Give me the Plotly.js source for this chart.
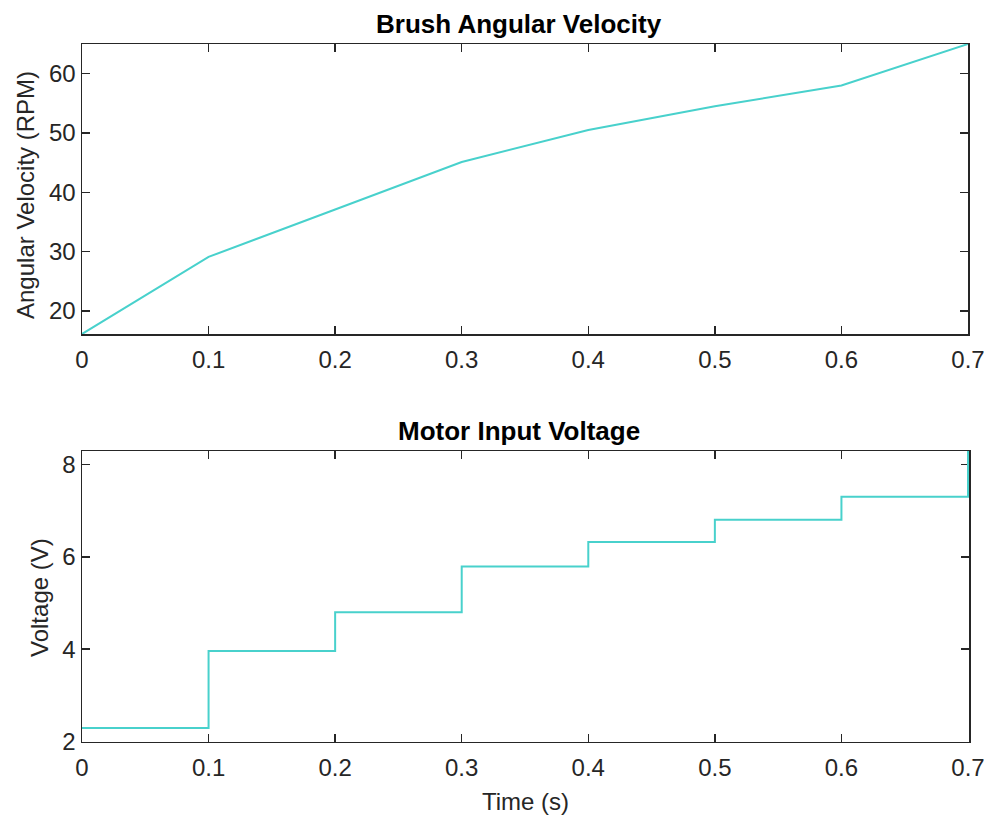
<!DOCTYPE html>
<html>
<head>
<meta charset="utf-8">
<script src="https://cdn.plot.ly/plotly-3.0.1.min.js"></script>
<style>html,body{margin:0;padding:0;background:#fff;}#chart{width:984px;height:815px;}</style>
</head>
<body>
<div id="chart"></div>
<script>
// Data
const velTime = [0, 0.1, 0.2, 0.3, 0.4, 0.5, 0.6, 0.7];
const velRPM = [16.1, 29.1, 37.1, 45.1, 50.5, 54.5, 58.0, 65.0];
const voltTime = [0, 0.1, 0.2, 0.3, 0.4, 0.5, 0.6, 0.7];
const voltV = [2.29, 3.96, 4.80, 5.79, 6.32, 6.80, 7.30, 8.29];
const xTicks = [0, 0.1, 0.2, 0.3, 0.4, 0.5, 0.6, 0.7];
const xTickText = ['0', '0.1', '0.2', '0.3', '0.4', '0.5', '0.6', '0.7'];
const velTicks = [20, 30, 40, 50, 60];
const voltTicks = [2, 4, 6, 8];

const lineColor = '#48D1CC';
const axisColor = '#262626';
const fontFam = 'Liberation Sans, Arial, sans-serif';

const H = 815, W = 984, L = 82, R = 15, PW = W - L - R; // PW = 887
function dom(yTop, yBot) { return [1 - yBot / H, 1 - yTop / H]; }
function px(x) { return (x - L) / PW; }

const traces = [
  {x: velTime, y: velRPM, type: 'scatter', mode: 'lines',
   line: {color: lineColor, width: 2}, xaxis: 'x', yaxis: 'y', hoverinfo: 'none', cliponaxis: false},
  {x: voltTime, y: voltV, type: 'scatter', mode: 'lines',
   line: {color: lineColor, width: 2, shape: 'hv'}, xaxis: 'x2', yaxis: 'y2', hoverinfo: 'none', cliponaxis: false}
];

const baseX = {
  tickmode: 'array', tickvals: xTicks, ticktext: xTickText,
  ticks: 'inside', ticklen: 8, tickwidth: 1.5, tickcolor: axisColor,
  showline: true, linecolor: axisColor, linewidth: 1.5, mirror: 'ticks',
  showgrid: false, zeroline: false, automargin: false, layer: 'below traces',
  ticklabeloverflow: 'allow', ticklabelstandoff: 4,
  tickfont: {family: fontFam, size: 24, color: axisColor}
};
const baseY = {
  ticks: 'inside', ticklen: 8, tickwidth: 1.5, tickcolor: axisColor,
  showline: true, linecolor: axisColor, linewidth: 1.5, mirror: 'ticks',
  showgrid: false, zeroline: false, automargin: false, layer: 'below traces',
  tickfont: {family: fontFam, size: 24, color: axisColor}
};

const titleFont = {family: fontFam, size: 24, color: axisColor};

const layout = {
  width: W, height: H,
  margin: {l: L, r: R, t: 0, b: 0},
  paper_bgcolor: '#ffffff', plot_bgcolor: '#ffffff',
  showlegend: false,
  font: {family: fontFam, color: axisColor},
  xaxis: Object.assign({}, baseX, {domain: [0, (PW - 1) / PW], anchor: 'y', range: [0, 0.7000001]}),
  yaxis: Object.assign({}, baseY, {domain: dom(44, 334), anchor: 'x', range: [16.1, 65.0], tickvals: velTicks}),
  xaxis2: Object.assign({}, baseX, {domain: [0, 1], anchor: 'y2', range: [0, 0.7 * PW / (PW - 1)],
    title: {text: 'Time (s)', font: titleFont}}),
  yaxis2: Object.assign({}, baseY, {domain: dom(451, 741.5), anchor: 'x2', range: [2, 8.29], tickvals: voltTicks}),
  annotations: [
    {text: '<b>Brush Angular Velocity</b>', xref: 'paper', yref: 'paper', x: px(519), y: 1 - 24 / H,
     xanchor: 'center', yanchor: 'middle', showarrow: false, font: {family: fontFam, size: 26, color: '#000'}},
    {text: '<b>Motor Input Voltage</b>', xref: 'paper', yref: 'paper', x: px(519), y: 1 - 431 / H,
     xanchor: 'center', yanchor: 'middle', showarrow: false, font: {family: fontFam, size: 26, color: '#000'}},
    {text: 'Angular Velocity (RPM)', xref: 'paper', yref: 'paper', x: px(26), y: 1 - 195 / H,
     xanchor: 'center', yanchor: 'middle', textangle: -90, showarrow: false, font: titleFont},
    {text: 'Voltage (V)', xref: 'paper', yref: 'paper', x: px(39), y: 1 - 598 / H,
     xanchor: 'center', yanchor: 'middle', textangle: -90, showarrow: false, font: titleFont}
  ]
};

Plotly.newPlot('chart', traces, layout, {displayModeBar: false, staticPlot: true});
</script>
</body>
</html>
